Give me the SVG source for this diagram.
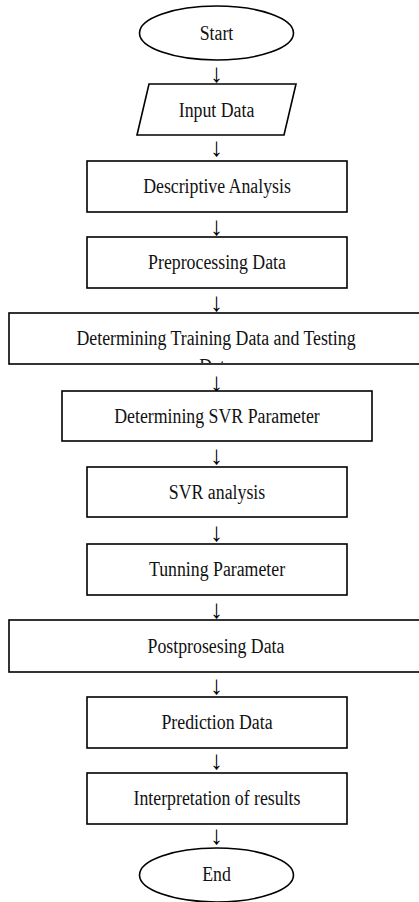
<svg xmlns="http://www.w3.org/2000/svg" width="419" height="902" viewBox="0 0 419 902">
  <style>
    .shape { fill: #ffffff; stroke: #000000; stroke-width: 1.6; }
    .label { font-family: "Liberation Serif", "Times New Roman", serif; font-size: 20px; fill: #111111; text-anchor: middle; }
    .arrow { font-family: "Liberation Serif", "DejaVu Serif", serif; font-size: 26px; fill: #000000; text-anchor: middle; }
  </style>
  <defs>
    <clipPath id="clip-training">
      <rect x="9" y="313" width="420" height="50"/>
    </clipPath>
  </defs>
  <rect x="0" y="0" width="419" height="902" fill="#ffffff"/>

  <!-- flow arrows between steps -->
  <g id="connectors">
    <text class="arrow" x="216.5" y="82">↓</text>
    <text class="arrow" x="216.5" y="156">↓</text>
    <text class="arrow" x="216.5" y="235">↓</text>
    <text class="arrow" x="216.5" y="311">↓</text>
    <text class="arrow" x="216.5" y="391">↓</text>
    <text class="arrow" x="216.5" y="464">↓</text>
    <text class="arrow" x="216.5" y="541">↓</text>
    <text class="arrow" x="216.5" y="618">↓</text>
    <text class="arrow" x="216.5" y="694">↓</text>
    <text class="arrow" x="216.5" y="769">↓</text>
    <text class="arrow" x="216.5" y="844">↓</text>
  </g>

  <!-- labels use a narrowed serif face: translate to the anchor, then squeeze horizontally -->
  <g id="start">
    <ellipse class="shape" cx="216.5" cy="33" rx="77" ry="27"/>
    <text class="label" transform="translate(216.5 40) scale(0.89 1)">Start</text>
  </g>

  <g id="input-data">
    <polygon class="shape" points="149,84 296,84 284,135 137,135"/>
    <text class="label" transform="translate(216.5 117) scale(0.89 1)">Input Data</text>
  </g>

  <g id="descriptive-analysis">
    <rect class="shape" x="87" y="161" width="260" height="51"/>
    <text class="label" transform="translate(217 193) scale(0.89 1)">Descriptive Analysis</text>
  </g>

  <g id="preprocessing-data">
    <rect class="shape" x="87" y="237" width="260" height="51"/>
    <text class="label" transform="translate(217 269) scale(0.89 1)">Preprocessing Data</text>
  </g>

  <g id="training-testing">
    <rect class="shape" x="9" y="313" width="430" height="51"/>
    <g clip-path="url(#clip-training)">
      <text class="label" transform="translate(216 345) scale(0.89 1)">Determining Training Data and Testing</text>
      <text class="label" transform="translate(216 373) scale(0.89 1)">Data</text>
    </g>
  </g>

  <g id="svr-parameter">
    <rect class="shape" x="62" y="391" width="310" height="50"/>
    <text class="label" transform="translate(217 423) scale(0.89 1)">Determining SVR Parameter</text>
  </g>

  <g id="svr-analysis">
    <rect class="shape" x="87" y="467" width="260" height="50"/>
    <text class="label" transform="translate(217 499) scale(0.89 1)">SVR analysis</text>
  </g>

  <g id="tunning-parameter">
    <rect class="shape" x="87" y="544" width="260" height="51"/>
    <text class="label" transform="translate(217 576) scale(0.89 1)">Tunning Parameter</text>
  </g>

  <g id="postprosesing-data">
    <rect class="shape" x="9" y="620" width="430" height="52"/>
    <text class="label" transform="translate(216 653) scale(0.89 1)">Postprosesing Data</text>
  </g>

  <g id="prediction-data">
    <rect class="shape" x="87" y="697" width="260" height="51"/>
    <text class="label" transform="translate(217 729) scale(0.89 1)">Prediction Data</text>
  </g>

  <g id="interpretation">
    <rect class="shape" x="87" y="773" width="260" height="51"/>
    <text class="label" transform="translate(217 805) scale(0.89 1)">Interpretation of results</text>
  </g>

  <g id="end">
    <ellipse class="shape" cx="216.5" cy="875" rx="77" ry="27"/>
    <text class="label" transform="translate(216.5 881) scale(0.89 1)">End</text>
  </g>
</svg>
